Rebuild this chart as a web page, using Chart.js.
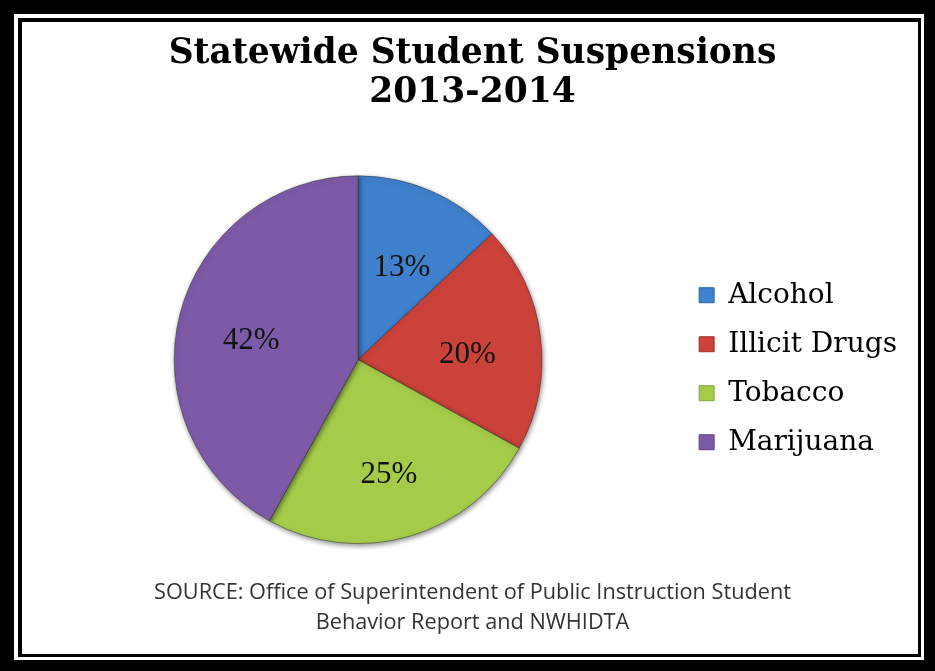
<!DOCTYPE html>
<html>
<head>
<meta charset="utf-8">
<script src="https://cdn.jsdelivr.net/npm/chart.js@4"></script>
<style>
  html, body { margin: 0; padding: 0; background: #fff; }
  #wrap { width: 935px; height: 671px; }
</style>
</head>
<body>
<div id="wrap"><canvas id="pieChart" width="935" height="671"></canvas></div>
<script>
const categories = ['Alcohol', 'Illicit Drugs', 'Tobacco', 'Marijuana'];
const shares = [13, 20, 25, 42];
const sliceColors = ['#3f81cd', '#cb423b', '#a4cc49', '#7d5aa8'];
const sliceLight = ['#4c8cd8', '#d64c44', '#b0d659', '#8865b2'];
const sliceDark = ['#2c64a6', '#a2302a', '#82a933', '#5e408b'];
const titleLines = ['Statewide Student Suspensions', '2013-2014'];
const sourceLines = ['SOURCE: Office of Superintendent of Public Instruction Student', 'Behavior Report and NWHIDTA'];

// double black frame behind everything
const framePlugin = {
  id: 'frame',
  beforeDraw(chart) {
    const ctx = chart.ctx;
    ctx.save();
    ctx.fillStyle = '#000';
    ctx.fillRect(0, 0, 935, 671);
    ctx.fillStyle = '#fff';
    ctx.fillRect(14, 14, 924 - 14, 660 - 14);
    ctx.fillStyle = '#000';
    ctx.fillRect(18, 18, 921 - 18, 657 - 18);
    ctx.fillStyle = '#fff';
    ctx.fillRect(22, 22, 918 - 22, 654 - 22);
    ctx.restore();
  }
};

// soft shadow under the slices
const pieShadow = {
  id: 'pieShadow',
  beforeDatasetsDraw(chart) {
    const ctx = chart.ctx;
    ctx.save();
    ctx.shadowColor = 'rgba(0,0,0,0.45)';
    ctx.shadowBlur = 5;
    ctx.shadowOffsetX = 1;
    ctx.shadowOffsetY = 2;
  },
  afterDatasetsDraw(chart) {
    chart.ctx.restore();
  }
};

// percent labels inside the slices
const sliceLabels = {
  id: 'sliceLabels',
  afterDatasetsDraw(chart) {
    const ctx = chart.ctx;
    const meta = chart.getDatasetMeta(0);
    ctx.save();
    ctx.font = '31px "Liberation Serif"';
    ctx.fillStyle = '#111';
    ctx.textAlign = 'center';
    ctx.textBaseline = 'middle';
    meta.data.forEach((arc, i) => {
      const p = arc.getProps(['x', 'y', 'startAngle', 'endAngle', 'outerRadius']);
      const mid = (p.startAngle + p.endAngle) / 2;
      const r = p.outerRadius * 0.6;
      ctx.fillText(shares[i] + '%', p.x + Math.cos(mid) * r, p.y + Math.sin(mid) * r + 9);
    });
    ctx.restore();
  }
};

// slight radial shading on each slice
function sliceFill(context) {
  const i = context.dataIndex;
  const chart = context.chart;
  const arc = chart.getDatasetMeta(0).data[i];
  if (!arc || !arc.outerRadius) return sliceColors[i];
  const g = chart.ctx.createRadialGradient(arc.x, arc.y, 0, arc.x, arc.y, arc.outerRadius);
  g.addColorStop(0, sliceLight[i]);
  g.addColorStop(0.9, sliceColors[i]);
  g.addColorStop(1, sliceDark[i]);
  return g;
}

new Chart(document.getElementById('pieChart'), {
  type: 'pie',
  data: {
    labels: categories,
    datasets: [{
      data: shares,
      backgroundColor: sliceFill,
      borderColor: 'rgba(50,50,50,0.5)',
      borderWidth: 1
    }]
  },
  options: {
    responsive: false,
    animation: false,
    layout: {
      padding: { left: 38, right: 28, top: 34, bottom: 33 }
    },
    plugins: {
      title: {
        display: true,
        text: titleLines,
        color: '#000',
        font: { family: '"DejaVu Serif"', size: 34.5, weight: 'bold', lineHeight: 1.15 },
        padding: { top: 0, bottom: 62 }
      },
      subtitle: {
        display: true,
        position: 'bottom',
        text: sourceLines,
        color: '#333',
        font: { family: '"Open Sans"', size: 21.7, lineHeight: 1.38 },
        padding: { top: 34, bottom: 0 }
      },
      legend: {
        position: 'right',
        fullSize: false,
        title: { display: true, text: ' ', font: { size: 10, lineHeight: 1.2 }, padding: 3 },
        labels: {
          color: '#000',
          font: { family: '"DejaVu Serif"', size: 28 },
          boxWidth: 15,
          boxHeight: 15,
          padding: 21,
          generateLabels(chart) {
            return categories.map((c, i) => ({
              text: c,
              fillStyle: sliceColors[i],
              strokeStyle: sliceDark[i],
              fontColor: '#000',
              lineWidth: 1,
              index: i
            }));
          }
        }
      },
      tooltip: { enabled: false }
    }
  },
  plugins: [framePlugin, pieShadow, sliceLabels]
});
</script>
</body>
</html>
